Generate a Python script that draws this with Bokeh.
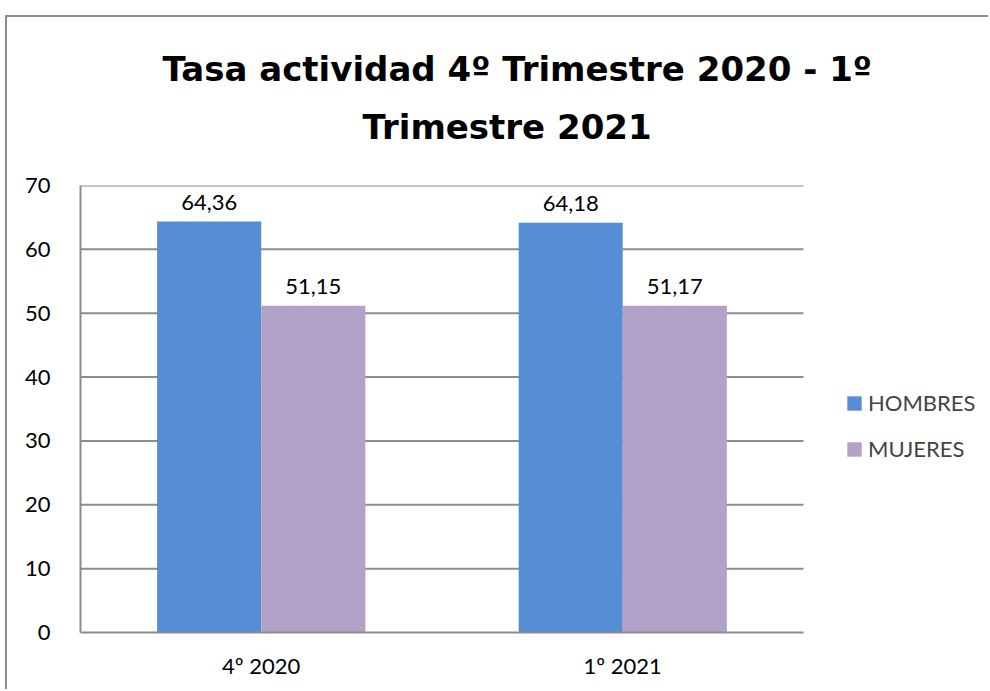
from bokeh.plotting import figure
from bokeh.models import (ColumnDataSource, Range1d, FixedTicker,
                          Legend, LegendItem, Title)
from bokeh.core.properties import value
from bokeh.embed import file_html
from bokeh.resources import INLINE

# ---- data ----
categories = ["4º 2020", "1º 2021"]
hombres = [64.36, 64.18]
mujeres = [51.15, 51.17]
series_names = ["HOMBRES", "MUJERES"]
title_lines = ["Tasa actividad 4º Trimestre 2020 - 1º", "Trimestre 2021"]
y_ticks = [0, 10, 20, 30, 40, 50, 60, 70]

bw = 0.288                      # bar width as a fraction of a category slot
centers = [i + 0.5 for i in range(len(categories))]
fmt = lambda v: f"{v:.2f}".replace(".", ",")
src = ColumnDataSource(dict(
    xh=[c - bw / 2 for c in centers],
    xm=[c + bw / 2 for c in centers],
    hombres=hombres,
    mujeres=mujeres,
    hombres_lbl=[fmt(v) for v in hombres],
    mujeres_lbl=[fmt(v) for v in mujeres],
))
n = len(categories)
grid_src = ColumnDataSource(dict(y=y_ticks[1:], x0=[0] * (len(y_ticks) - 1),
                                 x1=[n] * (len(y_ticks) - 1)))

BLUE = "#558ED5"
PURPLE = "#B3A2C7"
GRID = "#8C8C8C"
FONT = "Lato"
TFONT = "DejaVu Sans"

W, H = 983, 674
# category area spans 723 px of a 910 px frame (frame continues under the legend)
x_end = n * 910 / 723
p = figure(width=W, height=H, x_range=Range1d(0, x_end),
           y_range=Range1d(0, 70), output_backend="svg", toolbar_location=None,
           min_border_left=73, min_border_right=0, min_border_top=168,
           min_border_bottom=59)
p.styles = {"border-left": "2px solid #8C8C8C", "border-top": "2px solid #8C8C8C",
            "position": "relative", "left": "5px", "top": "15px"}
p.outline_line_color = None
p.background_fill_color = "white"
p.border_fill_color = "white"

# horizontal gridlines limited to the category area
p.segment(x0="x0", x1="x1", y0="y", y1="y", source=grid_src,
          line_color=GRID, line_width=2)

r1 = p.vbar(x="xh", top="hombres", width=bw, source=src,
            fill_color=BLUE, line_color=None)
r2 = p.vbar(x="xm", top="mujeres", width=bw, source=src,
            fill_color=PURPLE, line_color=None)

p.text(x="xh", y="hombres", text="hombres_lbl", source=src,
       text_align="center", text_baseline="bottom", y_offset=-12,
       text_font=value(FONT), text_font_size="22px", text_color="black")
p.text(x="xm", y="mujeres", text="mujeres_lbl", source=src,
       text_align="center", text_baseline="bottom", y_offset=-12,
       text_font=value(FONT), text_font_size="22px", text_color="black")

# axes
p.yaxis.ticker = FixedTicker(ticks=y_ticks)
p.xaxis.ticker = FixedTicker(ticks=centers)
p.xaxis.major_label_overrides = {c: lab for c, lab in zip(centers, categories)}
p.xaxis.bounds = (0, n)
for ax in (p.xaxis[0], p.yaxis[0]):
    ax.axis_line_color = GRID
    ax.axis_line_width = 2
    ax.major_tick_line_color = None
    ax.minor_tick_line_color = None
    ax.major_label_text_font = FONT
    ax.major_label_text_font_size = "22px"
    ax.major_label_text_color = "black"
p.yaxis.major_label_standoff = 24
p.xaxis.major_label_standoff = 13
p.xgrid.grid_line_color = None
p.ygrid.grid_line_color = None

# legend inside the (wide) frame, to the right of the category area
legend = Legend(items=[LegendItem(label=series_names[0], renderers=[r1]),
                       LegendItem(label=series_names[1], renderers=[r2])],
                location=(765, 170), orientation="vertical",
                glyph_width=18, glyph_height=18, label_standoff=5,
                spacing=19, padding=0, margin=0,
                label_text_font=FONT, label_text_font_size="22px",
                border_line_color=None, background_fill_alpha=0)
p.add_layout(legend, "center")

# title lines: spacer nearest the frame, then line 2, then line 1
p.add_layout(Title(text=" ", text_font_size="1px", standoff=36), "above")
t2 = Title(text=title_lines[1], align="left", offset=282, standoff=0,
           text_font=TFONT, text_font_style="bold", text_font_size="34px",
           text_color="black")
t1 = Title(text=title_lines[0], align="left", offset=82, standoff=31,
           text_font=TFONT, text_font_style="bold", text_font_size="34px",
           text_color="black")
p.add_layout(t2, "above")
p.add_layout(t1, "above")

open("out.html", "w").write(file_html(p, INLINE))
